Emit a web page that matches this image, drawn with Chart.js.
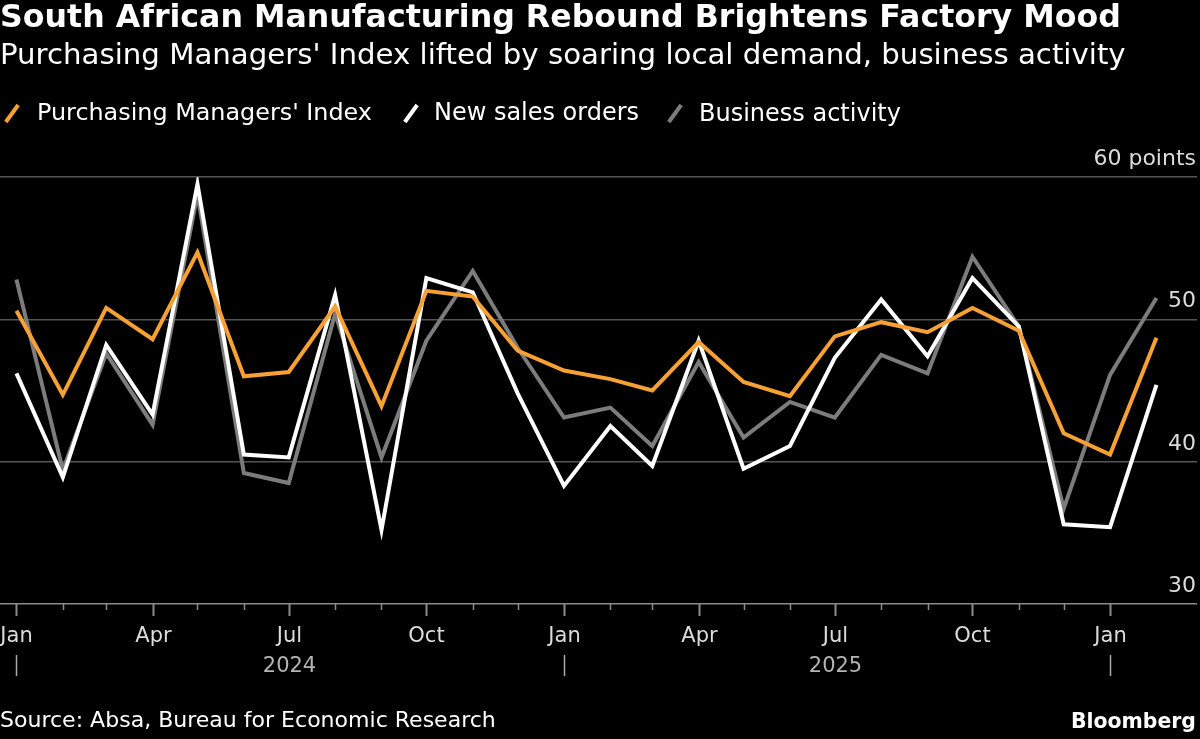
<!DOCTYPE html>
<html>
<head>
<meta charset="utf-8">
<script src="https://cdn.jsdelivr.net/npm/chart.js@4/dist/chart.umd.min.js"></script>
<style>
  html, body { margin:0; padding:0; background:#000; }
  #wrap { position:relative; width:1200px; height:739px; background:#000; overflow:hidden; font-family:"DejaVu Sans", sans-serif; color:#fff; }
  #c { position:absolute; left:0; top:0; }
  .t { position:absolute; white-space:nowrap; line-height:1; }
  .icon { position:absolute; width:4px; height:21px; transform:rotate(36deg); }
</style>
</head>
<body>
<div id="wrap">
  <canvas id="c" width="1200" height="739"></canvas>
  <div class="t" id="title" style="font-weight:bold;color:#fff">South African Manufacturing Rebound Brightens Factory Mood</div>
  <div class="t" id="subtitle" style="color:#fff">Purchasing Managers' Index lifted by soaring local demand, business activity</div>
  <div class="icon" style="left:10px;top:103px;background:#f7a033"></div>
  <div class="t" id="lg1" style="color:#fff">Purchasing Managers' Index</div>
  <div class="icon" style="left:409px;top:103px;background:#ffffff"></div>
  <div class="t" id="lg2" style="color:#fff">New sales orders</div>
  <div class="icon" style="left:673px;top:103px;background:#7c7c7c"></div>
  <div class="t" id="lg3" style="color:#fff">Business activity</div>
  <div class="t" id="source" style="color:#fff">Source: Absa, Bureau for Economic Research</div>
  <div class="t" id="brand" style="font-weight:bold;color:#fff">Bloomberg</div>
</div>
<script>
// ---- data ----
const months = ['2024-01','2024-02','2024-03','2024-04','2024-05','2024-06','2024-07','2024-08','2024-09','2024-10','2024-11','2024-12',
                '2025-01','2025-02','2025-03','2025-04','2025-05','2025-06','2025-07','2025-08','2025-09','2025-10','2025-11','2025-12',
                '2026-01','2026-02'];
const pmi        = [50.6,44.7,50.8,48.6,54.7,46.0,46.3,50.9,43.9,52.0,51.6,47.8,
                    46.4,45.8,45.0,48.4,45.6,44.6,48.8,49.8,49.1,50.8,49.2,42.0,
                    40.5,48.7];
const newOrders  = [46.2,38.9,48.2,43.3,59.5,40.5,40.3,51.7,35.2,52.9,51.9,44.8,
                    38.3,42.5,39.7,48.5,39.5,41.1,47.3,51.4,47.4,52.9,49.5,35.6,
                    35.4,45.4];
const business   = [52.8,39.4,47.6,42.6,58.8,39.2,38.5,50.4,40.3,48.5,53.4,48.0,
                    43.1,43.8,41.1,47.0,41.7,44.2,43.1,47.5,46.2,54.4,49.5,36.7,
                    46.1,51.5];
const monthNames = ['Jan','Feb','Mar','Apr','May','Jun','Jul','Aug','Sep','Oct','Nov','Dec'];
const yTicks = [30,40,50,60];
const yUnit = 'points';

// ---- helpers ----
const BASE = Date.UTC(2024,0,1);
function dayOf(m){ const [y,mo]=m.split('-').map(Number); return (Date.UTC(y,mo-1,1)-BASE)/86400000; }
const xs = months.map(dayOf);
const pts = arr => arr.map((v,i)=>({x:xs[i], y:v}));

const FONT = '"DejaVu Sans", sans-serif';

const axisPlugin = {
  id:'axisPlugin',
  afterDraw(chart){
    const ctx = chart.ctx, xS = chart.scales.x, yS = chart.scales.y;
    const base = yS.getPixelForValue(30);
    ctx.save();
    // month ticks (all but the last, partial month)
    for (let i=0;i<months.length-1;i++){
      const mo = Number(months[i].split('-')[1])-1;
      const px = Math.round(xS.getPixelForValue(xs[i]))+0.5;
      const major = mo%3===0;
      ctx.strokeStyle = '#8a8a8a';
      ctx.lineWidth = major ? 2 : 1.5;
      ctx.beginPath(); ctx.moveTo(px, base); ctx.lineTo(px, base + (major?12:6)); ctx.stroke();
      if (major){
        ctx.fillStyle = '#dcdcdc';
        ctx.font = '21px ' + FONT;
        ctx.textAlign = 'center'; ctx.textBaseline = 'alphabetic';
        const label = monthNames[mo];
        let cx = px; const w = ctx.measureText(label).width;
        if (cx - w/2 < 0) cx = w/2;
        ctx.fillText(label, cx, 642);
      }
      if (mo===0){
        ctx.strokeStyle = '#aaaaaa'; ctx.lineWidth = 1.5;
        ctx.beginPath(); ctx.moveTo(px, 655); ctx.lineTo(px, 676); ctx.stroke();
      }
      if (mo===6){
        ctx.fillStyle = '#b4b4b4';
        ctx.font = '21px ' + FONT;
        ctx.textAlign = 'center';
        ctx.fillText(months[i].split('-')[0], px, 672);
      }
    }
    // y labels above gridlines
    ctx.fillStyle = '#dcdcdc';
    ctx.font = '22px ' + FONT;
    ctx.textAlign = 'right'; ctx.textBaseline = 'alphabetic';
    yTicks.forEach(v=>{
      const py = yS.getPixelForValue(v);
      const txt = v===yTicks[yTicks.length-1] ? v + ' ' + yUnit : String(v);
      ctx.fillText(txt, 1196, py - 12);
    });
    ctx.restore();
  }
};

new Chart(document.getElementById('c'), {
  type:'line',
  data:{
    datasets:[
      {label:"Purchasing Managers' Index", data:pts(pmi), borderColor:'#f7a033', borderWidth:4},
      {label:'New sales orders', data:pts(newOrders), borderColor:'#ffffff', borderWidth:4},
      {label:'Business activity', data:pts(business), borderColor:'#7c7c7c', borderWidth:4}
    ]
  },
  options:{
    responsive:false, animation:false, devicePixelRatio:1,
    layout:{padding:{top:177, bottom:135, left:0, right:3}},
    elements:{point:{radius:0}, line:{tension:0, borderJoinStyle:'miter', fill:false}},
    plugins:{legend:{display:false}, tooltip:{enabled:false}},
    scales:{
      x:{type:'linear', min:-11, max:789.1, display:false},
      y:{type:'linear', position:'right', min:30, max:60,
         ticks:{display:false, stepSize:10},
         border:{display:false},
         grid:{drawTicks:false, lineWidth:1.5, color:c=> c.tick && c.tick.value===30 ? '#8a8a8a' : '#555555'}}
    }
  },
  plugins:[axisPlugin]
});

// ---- fit header/footer text to measured widths ----
function place(id, left, right, baseline, startSize){
  const el = document.getElementById(id);
  el.style.fontSize = startSize+'px';
  const w = el.getBoundingClientRect().width;
  const size = startSize * (right-left) / w;
  el.style.fontSize = size.toFixed(2)+'px';
  el.style.left = left+'px';
  el.style.top = (baseline - 0.846*size).toFixed(1)+'px';
}
function layoutText(){
  place('title', 0, 1121, 28, 28);
  place('subtitle', 0, 1126, 65, 26);
  place('lg1', 37, 372, 121, 24);
  place('lg2', 434, 639, 121, 24);
  place('lg3', 699, 901, 121, 24);
  place('source', 0, 496, 728, 22);
  place('brand', 1071, 1196, 728, 20);
}
layoutText();
if (document.fonts && document.fonts.ready) document.fonts.ready.then(layoutText);
</script>
</body>
</html>
